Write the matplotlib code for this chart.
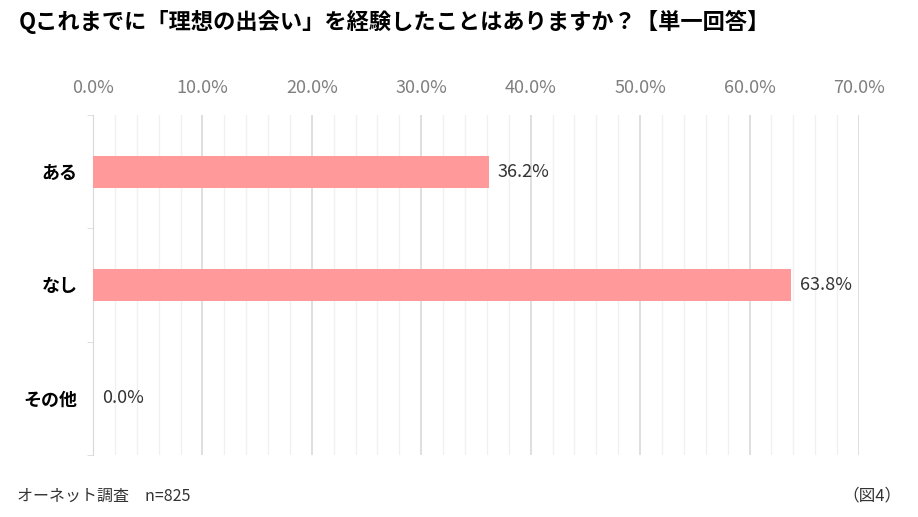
import numpy as np
import matplotlib.pyplot as plt
from matplotlib.ticker import MultipleLocator, FuncFormatter

plt.rcParams['font.family'] = ['Noto Sans CJK JP', 'DejaVu Sans']

categories = ["ある", "なし", "その他"]
values = [36.2, 63.8, 0.0]

title = "Qこれまでに「理想の出会い」を経験したことはありますか？【単一回答】"
source = "オーネット調査　n=825"
fig_no = "（図4）"

fig = plt.figure(figsize=(9.18, 5.17), dpi=100)
ax = fig.add_axes([0.1013, 0.1199, 0.8344, 0.6577])

y = np.arange(len(categories))
ax.barh(y, values, height=0.28, color="#FF999A", zorder=3)

for yi, v in zip(y, values):
    ax.text(v + 0.8, yi, f"{v:.1f}%", va="center", ha="left",
            fontsize=13, color="#333333", zorder=4)

ax.set_xlim(0, 70)
ax.set_ylim(len(categories) - 0.5, -0.5)
ax.xaxis.set_major_locator(MultipleLocator(10))
ax.xaxis.set_minor_locator(MultipleLocator(2))
ax.xaxis.set_major_formatter(FuncFormatter(lambda v, p: f"{v:.1f}%"))
ax.xaxis.tick_top()
ax.tick_params(axis="x", which="both", length=0, labelsize=13,
               labelcolor="#7f7f7f", pad=13)
ax.grid(axis="x", which="major", color="#d9d9d9", linewidth=1.2, zorder=0)
ax.grid(axis="x", which="minor", color="#f0f0f0", linewidth=1.0, zorder=0)

ax.set_yticks(y)
ax.set_yticklabels(categories, fontsize=13, fontweight="bold")
ax.set_yticks(np.arange(len(categories) + 1) - 0.5, minor=True)
ax.tick_params(axis="y", which="major", length=0, pad=11)
ax.tick_params(axis="y", which="minor", length=4, color="#d9d9d9")

for s in ["top", "right", "bottom"]:
    ax.spines[s].set_visible(False)
ax.spines["left"].set_color("#d9d9d9")

fig.text(0.02, 0.957, title, fontsize=16, fontweight="bold", ha="left", va="center")
fig.text(0.018, 0.04, source, fontsize=11.5, ha="left", va="center", color="#333333")
fig.text(0.982, 0.04, fig_no, fontsize=12, ha="right", va="center", color="#333333")

fig.savefig("out.png", dpi=100)
